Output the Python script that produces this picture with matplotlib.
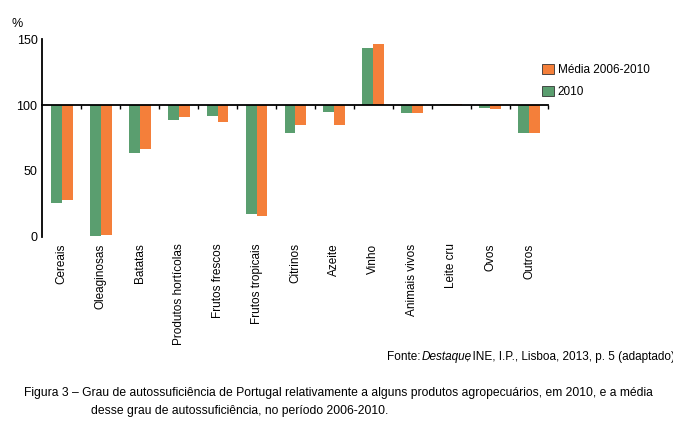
import matplotlib
matplotlib.use("Agg")
import matplotlib.pyplot as plt
from matplotlib.patches import Patch
import numpy as np

categories = ["Cereais", "Oleaginosas", "Batatas", "Produtos hortícolas", "Frutos frescos",
              "Frutos tropicais", "Citrinos", "Azeite", "Vinho", "Animais vivos",
              "Leite cru", "Ovos", "Outros"]
val_2010 = [26, 1, 64, 89, 92, 17, 79, 95, 143, 94, 100.5, 98, 79]
val_media = [28, 1.5, 67, 91, 87, 16, 85, 85, 146, 94, 100.5, 97, 79]

GREEN = "#5a9e6f"
ORANGE = "#f47f3a"

plt.rcParams["font.family"] = ["Liberation Sans", "DejaVu Sans"]
fig = plt.figure(figsize=(6.73, 4.26), dpi=100)
ax = fig.add_axes([0.063, 0.444, 0.752, 0.464])

x = np.arange(len(categories))
w = 0.28
ax.bar(x - w / 2, np.array(val_2010) - 100, w, bottom=100, color=GREEN)
ax.bar(x + w / 2, np.array(val_media) - 100, w, bottom=100, color=ORANGE)

ax.set_xlim(-0.5, len(categories) - 0.5)
ax.set_ylim(0, 150)
ax.set_yticks([0, 50, 100, 150])
ax.tick_params(axis="y", length=0, labelsize=9)
for s in ["top", "right"]:
    ax.spines[s].set_visible(False)
ax.spines["bottom"].set_position(("data", 100))
ax.spines["bottom"].set_linewidth(1.3)
ax.spines["left"].set_linewidth(1.3)
ax.set_xticks(x + 0.5)
ax.set_xticklabels([])
ax.tick_params(axis="x", direction="out", length=3, width=1)
for i, c in enumerate(categories):
    ax.text(i, -5, c, rotation=90, ha="center", va="top", fontsize=8.5)
ax.text(-0.05, 1.06, "%", transform=ax.transAxes, fontsize=9, ha="center")

handles = [Patch(facecolor=ORANGE, edgecolor="#333333", linewidth=0.6),
           Patch(facecolor=GREEN, edgecolor="#333333", linewidth=0.6)]
fig.legend(handles, ["Média 2006-2010", "2010"], loc="upper left",
           bbox_to_anchor=(0.79, 0.875), frameon=False, fontsize=8.5,
           handlelength=1.0, handleheight=1.0, labelspacing=0.8, handletextpad=0.3)

fig.text(0.575, 0.155, "Fonte: ", fontsize=8.5)
fig.text(0.626, 0.155, "Destaque", fontsize=8.5, style="italic")
fig.text(0.692, 0.155, ", INE, I.P., Lisboa, 2013, p. 5 (adaptado)", fontsize=8.5)
fig.text(0.035, 0.07, "Figura 3 – Grau de autossuficiência de Portugal relativamente a alguns produtos agropecuários, em 2010, e a média",
         fontsize=8.7)
fig.text(0.135, 0.028, "desse grau de autossuficiência, no período 2006-2010.", fontsize=8.7)

fig.savefig("out.png", dpi=100)
